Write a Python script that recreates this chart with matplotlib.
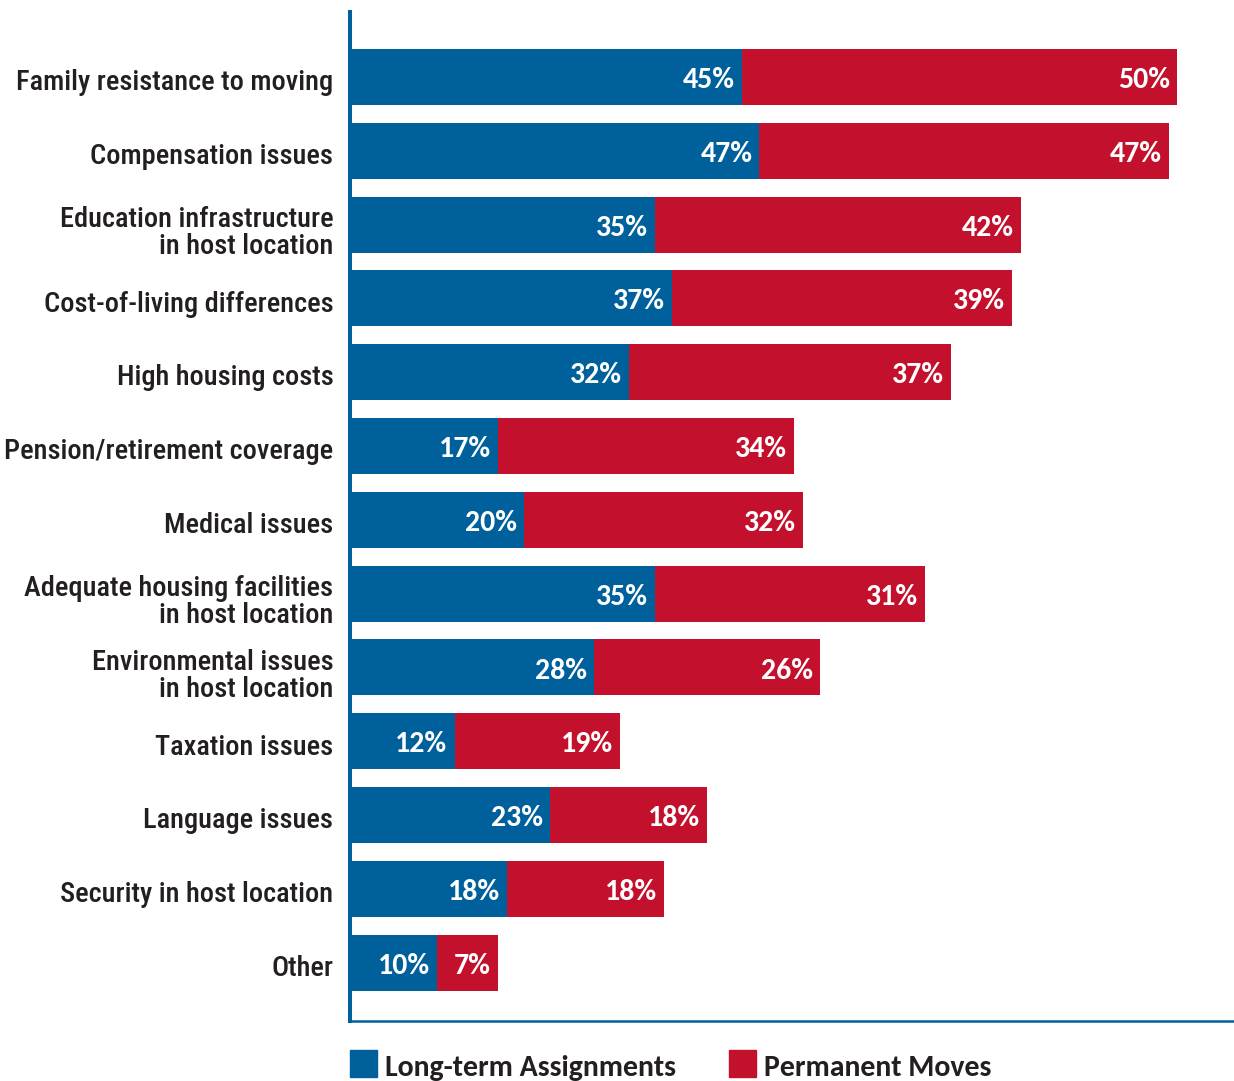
import matplotlib
matplotlib.use("Agg")
import matplotlib.pyplot as plt
from matplotlib import font_manager
from matplotlib.patches import Rectangle
from matplotlib.transforms import ScaledTranslation

categories = [
    "Family resistance to moving",
    "Compensation issues",
    "Education infrastructure\nin host location",
    "Cost-of-living differences",
    "High housing costs",
    "Pension/retirement coverage",
    "Medical issues",
    "Adequate housing facilities\nin host location",
    "Environmental issues\nin host location",
    "Taxation issues",
    "Language issues",
    "Security in host location",
    "Other",
]
long_term = [45, 47, 35, 37, 32, 17, 20, 35, 28, 12, 23, 18, 10]
permanent = [50, 47, 42, 39, 37, 34, 32, 31, 26, 19, 18, 18, 7]
series_names = ["Long-term Assignments", "Permanent Moves"]

BLUE = "#00609C"
RED = "#C3112D"
DARK = "#231F20"

installed = {f.name for f in font_manager.fontManager.ttflist}


def first_installed(*families):
    for fam in families:
        if fam in installed:
            return fam
    return "DejaVu Sans"


cat_font = first_installed("Roboto Condensed", "Archivo Narrow", "PT Sans Narrow",
                           "Barlow Condensed", "Sofia Sans Condensed")
val_font = first_installed("Carlito", "Lato", "Open Sans")
val_size = 21.5 if val_font == "Carlito" else 19

fig = plt.figure(figsize=(12.34, 10.81), dpi=100)
ax = fig.add_axes([350 / 1234, 60 / 1081, 884 / 1234, 1009 / 1081])

y = list(range(len(categories)))
ax.barh(y, long_term, height=0.76, color=BLUE, linewidth=0)
ax.barh(y, permanent, left=long_term, height=0.76, color=RED, linewidth=0)

for i, (a, b) in enumerate(zip(long_term, permanent)):
    ax.text(a - 0.8, i + 0.15, f"{a}%", ha="right", va="baseline", color="white",
            fontsize=val_size, fontweight="bold", family=val_font)
    ax.text(a + b - 0.8, i + 0.15, f"{b}%", ha="right", va="baseline", color="white",
            fontsize=val_size, fontweight="bold", family=val_font)

ax.set_xlim(0, 101.5)
ax.set_ylim(12.79, -0.88)
ax.set_yticks(y)
ax.set_yticklabels(categories, fontsize=20.4, family=cat_font, color=DARK,
                   fontweight=500, linespacing=1.0)
ax.tick_params(axis="y", length=0, pad=12)
ax.set_xticks([])

# nudge the category labels slightly downwards; two-line ones a bit more
for lab in ax.get_yticklabels():
    dy = -4 if "\n" in lab.get_text() else -2
    lab.set_transform(lab.get_transform()
                      + ScaledTranslation(0, dy / 72, fig.dpi_scale_trans))

for side in ("top", "right"):
    ax.spines[side].set_visible(False)
ax.spines["left"].set_color(BLUE)
ax.spines["left"].set_linewidth(2.9)
ax.spines["bottom"].set_color(BLUE)
ax.spines["bottom"].set_linewidth(1.8)

# legend along the bottom edge
for x0, tx, col, name in [(350, 385, BLUE, series_names[0]),
                          (729, 764, RED, series_names[1])]:
    fig.patches.append(Rectangle((x0 / 1234, 4 / 1081), 27 / 1234, 27 / 1081,
                                 transform=fig.transFigure, color=col))
    fig.text(tx / 1234, 5 / 1081, name, ha="left", va="baseline",
             fontsize=val_size, fontweight="bold", family=val_font, color=DARK)

fig.savefig("out.png", dpi=100)
